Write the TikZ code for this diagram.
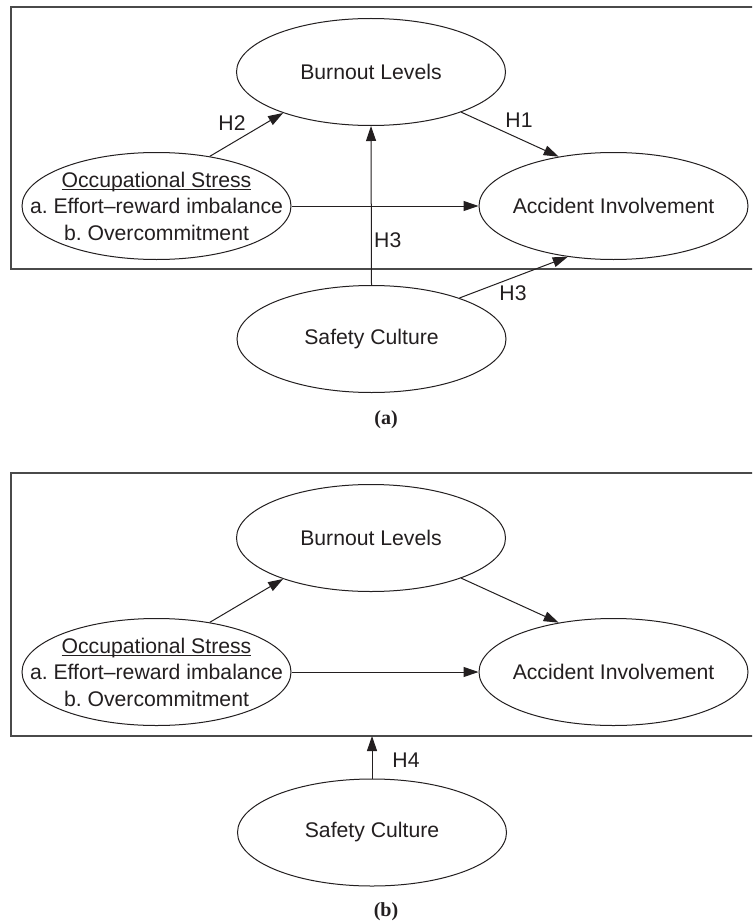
\documentclass[tikz,border=0pt]{standalone}
\usepackage{fontspec}
\setmainfont{Liberation Sans}
\newfontfamily\capfont{Liberation Serif}
\usetikzlibrary{shapes.geometric,arrows.meta}
\definecolor{ink}{HTML}{231F20}
\definecolor{boxline}{HTML}{4A4A4A}
\frenchspacing
\newcommand\myul[1]{\setbox0\hbox{#1}\rlap{\rule[-2.6pt]{\wd0}{1pt}}\box0}
\begin{document}
\begin{tikzpicture}[x=1pt,y=-1pt,
  font=\fontsize{21.2}{26.5}\selectfont\frenchspacing,
  every node/.style={text=ink},
  ell/.style={draw=ink, ellipse, minimum width=269pt, minimum height=107pt, inner sep=0pt, line width=1pt},
  frame/.style={draw=boxline, line width=1.6pt},
  conn/.style={draw=ink, line width=1pt, -{Triangle[length=15pt,width=10pt]}},
  hlab/.style={inner sep=0pt},
  captxt/.style={font=\capfont\bfseries\fontsize{20}{24}\selectfont, inner sep=0pt}]
\clip (0,0) rectangle (752,923);
\fill[white] (0,0) rectangle (752,923);

% ---------- panel (a) ----------
\draw[frame] (11,7) rectangle (770,269);
\node[ell, label={center:Burnout Levels}] (burnA) at (371,72) {};
\node[ell, label={[align=center]center:\myul{Occupational Stress}\\a. Effort–reward imbalance\\b. Overcommitment}] (occA) at (156.5,206) {};
\node[ell, label={center:Accident Involvement}] (accA) at (613.5,206) {};
\node[ell, label={center:Safety Culture}] (safA) at (371.5,339) {};

\draw[conn] (occA.43.9) -- (burnA.205);
\draw[conn] (burnA.336.5) -- (accA.138);
\draw[conn] (occA.east) -- (accA.west);
\draw[conn] (safA.north) -- (burnA.south);
\draw[conn] (safA.25.1) -- (accA.228.3);

\node[hlab] (h2a) at (232,123) {H2};
\node[hlab] (h1a) at (519,120) {H1};
\node[hlab, anchor=west] (h3v) at (374,240) {H3};
\node[hlab] (h3d) at (513,293) {H3};
\node[captxt] (capA) at (386,420) {(a)};

% ---------- panel (b) ----------
\draw[frame] (11,473) rectangle (770,736);
\coordinate (boxB) at (372,736);
\node[ell, label={center:Burnout Levels}] (burnB) at (371,538) {};
\node[ell, label={[align=center]center:\myul{Occupational Stress}\\a. Effort–reward imbalance\\b. Overcommitment}] (occB) at (156.5,672) {};
\node[ell, label={center:Accident Involvement}] (accB) at (613.5,672) {};
\node[ell, label={center:Safety Culture}] (safB) at (372,832.5) {};

\draw[conn] (occB.43.9) -- (burnB.205);
\draw[conn] (burnB.336.5) -- (accB.138);
\draw[conn] (occB.east) -- (accB.west);
\draw[conn] (safB.north) -- (boxB);

\node[hlab] (h4b) at (406,760) {H4};
\node[captxt] (capB) at (386,912) {(b)};
\end{tikzpicture}
\end{document}
